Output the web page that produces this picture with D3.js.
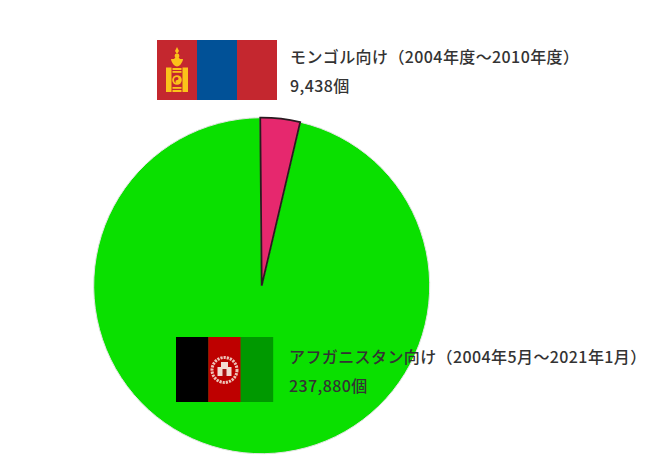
<!DOCTYPE html>
<html>
<head>
<meta charset="utf-8">
<script src="https://cdn.jsdelivr.net/npm/d3@7"></script>
<style>
html, body { margin: 0; padding: 0; background: #fff; }
text { font-family: "Noto Sans CJK JP", sans-serif; font-weight: 500; fill: #333; letter-spacing: 0.4px; }
</style>
</head>
<body>
<svg id="chart" width="657" height="468"></svg>
<script>
const names = ['モンゴル向け（2004年度～2010年度）', 'アフガニスタン向け（2004年5月～2021年1月）'];
const counts = [9438, 237880];
const countLabels = ['9,438個', '237,880個'];
const colors = ['#e6286e', '#0ae000'];

const svg = d3.select('#chart');

// pie, turned a hair to the left like the picture
const startAngle = -0.0087;
const pie = d3.pie().sort(null).value(d => d)
    .startAngle(startAngle).endAngle(startAngle + 2 * Math.PI);
const arc = d3.arc().innerRadius(0).outerRadius(168);

const g = svg.append('g').attr('transform', 'translate(261.7,285.7)');

g.selectAll('path')
    .data(pie(counts).reverse())
    .join('path')
    .attr('d', arc)
    .attr('fill', d => colors[d.index])
    .attr('stroke', d => d.index == 0 ? '#2a1a20' : '#e4e4e4')
    .attr('stroke-width', d => d.index == 0 ? 1.8 : 1);

// mongolia flag
const mn = svg.append('g').attr('transform', 'translate(157,40)');
const mnStripes = ['#c4272f', '#015197', '#c4272f'];
mn.selectAll('rect')
    .data(mnStripes)
    .join('rect')
    .attr('x', (d, i) => i * 40)
    .attr('width', 40)
    .attr('height', 60)
    .attr('fill', d => d);

// soyombo, roughly
const soy = mn.append('g').attr('fill', '#fbc21a');
soy.append('path').attr('d', 'M20,7 l2,4 l-2,3 l-2,-3 z');
soy.append('circle').attr('cx', 20).attr('cy', 16).attr('r', 2.4);
soy.append('path').attr('d', 'M14,19 a6,6 0 0 0 12,0 z');
soy.append('circle').attr('cx', 20).attr('cy', 22).attr('r', 4.4);
soy.append('rect').attr('x', 9).attr('y', 27.5).attr('width', 5.5).attr('height', 24.5);
soy.append('rect').attr('x', 25.5).attr('y', 27.5).attr('width', 5.5).attr('height', 24.5);
soy.append('rect').attr('x', 15.5).attr('y', 28).attr('width', 9).attr('height', 2);
soy.append('rect').attr('x', 15.5).attr('y', 31).attr('width', 9).attr('height', 1.8);
soy.append('rect').attr('x', 15.5).attr('y', 47).attr('width', 9).attr('height', 1.8);
soy.append('rect').attr('x', 15.5).attr('y', 50).attr('width', 9).attr('height', 2);
soy.append('circle').attr('cx', 20).attr('cy', 40).attr('r', 4.8);
mn.append('path').attr('d', 'M20,37 a1.5,1.5 0 0 1 0,3 a1.5,1.5 0 0 0 0,3 a3,3 0 0 1 0,-6 z')
    .attr('fill', '#c4272f');

// afghanistan flag
const af = svg.append('g').attr('transform', 'translate(176,337)');
const afStripes = ['#000000', '#be0000', '#009900'];
af.selectAll('rect')
    .data(afStripes)
    .join('rect')
    .attr('x', (d, i) => i * 32.3)
    .attr('width', 32.6)
    .attr('height', 65)
    .attr('fill', d => d);

// emblem, roughly
const em = af.append('g').attr('transform', 'translate(48.5,33)');
em.append('circle').attr('r', 12.5).attr('fill', 'none')
    .attr('stroke', '#eec4b8').attr('stroke-width', 3).attr('stroke-dasharray', '2.2 1');
em.append('path').attr('d', 'M-7,6 V-3 H-3.5 V-8 H3.5 V-3 H7 V6 Z').attr('fill', '#f3d9d0');
em.append('rect').attr('x', -2).attr('y', -1).attr('width', 4).attr('height', 7).attr('fill', '#a81010');

// labels
const labels = [
    {x: 290, y1: 63, y2: 92},
    {x: 289, y1: 363, y2: 392}
];
labels.forEach((p, i) => {
    svg.append('text').attr('x', p.x).attr('y', p.y1)
        .attr('font-size', 16).text(names[i]);
    svg.append('text').attr('x', p.x).attr('y', p.y2)
        .attr('font-size', 16).text(countLabels[i]);
});
</script>
</body>
</html>
